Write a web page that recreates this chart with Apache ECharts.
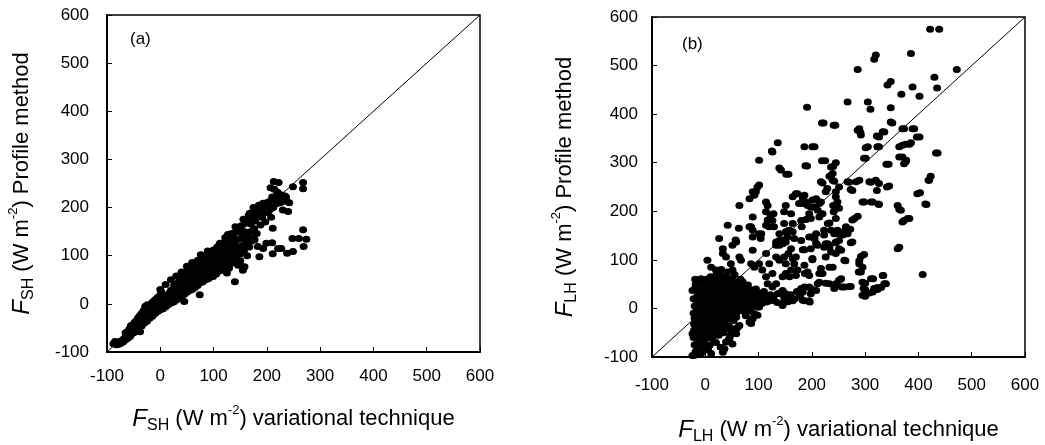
<!DOCTYPE html>
<html>
<head>
<meta charset="utf-8">
<script src="https://cdn.jsdelivr.net/npm/echarts@6/dist/echarts.min.js"></script>
<style>
  html, body { margin: 0; padding: 0; background: #fff; }
  #chart { width: 1045px; height: 445px; }
</style>
</head>
<body>
<div id="chart"></div>
<script>
// axis range and ticks shared by both panels
const axisTicks = [-100, 0, 100, 200, 300, 400, 500, 600];
const diagonal = [-100, 600];

// (a) sensible heat flux: [variational, profile]
const shPoints = [
  [-88,-83],[-85,-78],[-82,-85],[-80,-80],[-78,-84],[-76,-78],[-74,-82],[-72,-76],[-70,-79],[-68,-72],
  [-66,-75],[-64,-68],[-62,-72],[-60,-65],[-58,-62],[-57,-68],[-55,-58],[-54,-52],[-52,-56],[-50,-50],
  [-49,-54],[-47,-47],[-45,-50],[-44,-44],[-42,-46],[-40,-40],[-39,-44],[-37,-36],[-36,-41],[-38,-58],
  [-33,-34],[-32,-30],[-30,-34],[-29,-26],[-28,-30],[-26,-22],[-25,-28],[-28,-5],[-22,-24],[-21,-18],
  [-20,-22],[-18,-14],[-17,-20],[-15,-12],[-14,-16],[-12,-8],[-11,-14],[-10,-6],[-8,-10],[-7,-2],
  [-5,-8],[-4,-4],[-3,2],[-1,-6],[0,-2],[1,4],[2,-5],[3,0],[4,8],[5,-3],[6,3],[2,24],[8,10],[9,2],
  [10,6],[11,14],[12,0],[13,8],[14,18],[15,4],[16,12],[17,22],[18,7],[19,15],[20,28],[21,10],[22,18],
  [23,30],[24,14],[25,22],[26,38],[27,12],[28,26],[29,34],[30,18],[31,42],[32,24],[33,30],[34,20],
  [35,36],[36,48],[37,26],[38,32],[39,44],[40,28],[41,38],[42,54],[43,30],[44,42],[45,5],[46,36],
  [47,50],[48,64],[49,32],[50,44],[51,56],[52,72],[53,40],[54,50],[55,62],[56,36],[57,46],[58,58],
  [59,70],[60,42],[61,52],[62,64],[63,78],[64,48],[65,58],[66,68],[67,40],[68,54],[69,64],[70,76],
  [71,50],[72,60],[73,90],[74,19],[75,70],[76,102],[77,55],[78,66],[79,80],[80,58],[81,72],[82,86],
  [83,62],[84,74],[85,95],[86,55],[87,68],[88,80],[89,110],[90,62],[92,76],[93,88],[95,70],[96,100],
  [97,82],[99,57],[100,92],[101,74],[102,108],[103,86],[105,66],[106,96],[107,118],[108,80],[110,100],
  [111,88],[112,126],[113,72],[115,106],[116,92],[117,120],[118,82],[120,110],[121,96],[122,138],
  [124,78],[125,104],[126,118],[127,144],[128,90],[129,74],[130,110],[131,130],[133,98],[134,146],
  [135,120],[136,140],[137,86],[138,106],[140,46],[140,128],[141,160],[142,96],[144,116],[145,150],
  [146,80],[148,134],[149,84],[150,104],[152,162],[153,120],[154,140],[155,70],[156,176],[157,110],
  [158,77],[158,150],[160,128],[161,168],[163,100],[164,140],[166,184],[167,118],[168,188],[169,150],
  [170,166],[172,136],[173,180],[175,200],[176,156],[177,133],[178,172],[180,195],[181,146],[183,119],
  [184,186],[185,205],[186,98],[188,164],[190,200],[191,180],[193,209],[193,115],[195,190],[197,170],
  [199,126],[200,205],[202,190],[204,212],[206,196],[207,241],[208,180],[210,127],[210,216],[211,104],
  [211,157],[212,200],[213,254],[214,238],[216,222],[218,208],[220,232],[221,115],[222,252],[222,218],
  [225,210],[227,115],[228,226],[230,195],[232,214],[234,224],[236,222],[236,213],[238,105],[240,192],
  [242,210],[248,136],[249,109],[249,243],[260,136],[268,252],[268,239],[268,154],[269,119],[274,134],
  // thicker parts of the band
  [-65,-60],[-62,-58],[-58,-52],[-55,-45],[-52,-44],[-48,-38],[-45,-36],[-42,-30],[-40,-28],[-38,-24],
  [-35,-20],[-32,-16],[-30,-12],[-27,-8],[-24,-2],[-20,-4],[-17,0],[-14,4],[-10,8],[-6,12],
  [-2,16],[2,18],[-60,-70],[-55,-64],[-50,-60],[-45,-56],[-40,-50],[-35,-46],[-30,-40],[-25,-36],
  [-20,-30],[-15,-26],[-10,-20],[-5,-16],[0,-12],[5,-10],[10,-6],[15,-2],[20,2],[25,4],
  [30,8],[35,12],[40,16],[45,20],[50,24],[55,28],[60,30],[65,34],[70,38],[75,44],
  [80,46],[85,50],[90,52],[95,56],[100,60],[105,62],[110,68],[115,70],[120,74],[0,30],
  [10,40],[20,50],[30,58],[40,66],[50,78],[60,86],[70,90],[80,96],[90,104],[100,112],
  [110,120],[120,128],[130,140],[140,148],[150,158],[160,170],[170,178],[180,184],[190,196],[200,210],
  [210,222],[220,226],[160,120],[170,130],[150,90],[130,80],[125,64]
];

// (b) latent heat flux: [variational, profile]
const lhPoints = [
  // upper scatter
  [422,575],[439,575],[386,525],[320,522],[317,513],[286,492],[472,492],[430,476],[435,454],[348,467],
  [342,460],[389,456],[368,441],[402,437],[267,425],[305,425],[310,410],[348,413],[191,414],[219,382],
  [241,377],[289,370],[291,362],[348,384],[370,370],[389,370],[333,364],[322,355],[323,333],[301,331],
  [397,353],[364,333],[376,338],[383,338],[376,302],[370,312],[340,297],[433,320],[298,309],[136,341],
  [125,324],[186,333],[201,333],[101,305],[139,289],[142,285],[152,276],[188,294],[225,304],[245,300],
  [240,292],[236,274],[239,264],[267,261],[273,245],[283,261],[289,264],[308,261],[320,264],[322,243],
  [325,215],[341,250],[295,219],[311,219],[398,236],[419,264],[423,272],[413,215],[361,212],[364,204],
  [380,185],[370,178],[361,123],[408,70],[276,182],[272,163],[273,135],[261,99],[292,107],[289,92],
  [288,75],[295,54],[297,41],[295,27],[311,61],[317,41],[308,32],[323,43],[333,68],[336,51],
  [270,45],[256,44],[251,58],[239,85],[226,52],[214,72],[211,51],[201,37],[195,44],[198,30],
  [196,13],[183,17],[186,44],[187,72],[186,89],[201,103],[198,123],[195,147],[200,147],[180,140],
  [183,121],[181,168],[198,185],[183,226],[189,219],[201,223],[198,209],[164,230],[170,236],[208,154],
  [208,134],[214,188],[220,195],[214,216],[217,219],[217,261],[226,240],[240,212],[241,199],[245,185],
  [245,230],[248,219],[251,206],[230,175],[236,161],[242,154],[248,161],[255,157],[258,151],[251,123],
  [245,113],[230,133],[226,106],[233,85],[223,151],[255,61],
  [126,322],[156,276],[95,240],[92,233],[205,333],[191,293],[222,382],[244,377],[219,304],[236,291],
  [239,278],[233,272],[220,258],[229,247],[242,262],[245,240],[251,250],[270,260],[276,243],[311,260],
  [326,257],[345,252],[298,219],[314,219],[326,214],[301,309],[305,333],[326,333],[286,367],[292,357],
  [326,353],[336,363],[351,382],[373,370],[392,370],[402,353],[364,312],[377,305],[373,298],[370,336],
  [386,341],[344,297],[436,320],[420,264],[403,238],[415,214],[367,202],[373,181],[383,185],[280,185],
  [233,176],[223,161],[264,168],[267,154],[276,137],[251,140],[211,202],[195,195],[189,183],[180,181],
  [173,236],[186,233],[183,216],[176,216],[208,226],[205,209],[192,212],[151,212],[161,195],[148,199],
  [164,175],[148,175],[123,192],[126,181],[120,168],[89,188],[86,168],[105,154],[89,147],[63,165],
  [57,141],[158,161],[154,147],[139,140],[133,137],[145,133],[205,144],[211,130],[223,126],[186,121],
  [201,100],[192,75],[226,133],[233,130],[245,137],[364,126],
  [298,111],[289,98],[295,85],[292,75],[334,68],[339,51],[330,43],[323,39],[314,34],[315,61],
  [300,52],[300,39],[300,25],[263,98],[255,120],[286,190],[264,164],[251,154],[245,135],[233,126],
  [236,116],[273,45],[261,44],[245,51],[242,41],[233,51],[217,82],[220,72],[214,54],[208,37],
  [198,41],[195,16],[186,16],[164,16],[145,6],[180,41],[183,34],[195,68],
  // middle left
  [64,212],[83,226],[89,240],[98,250],[101,254],[114,219],[117,212],[114,199],[117,182],[114,171],
  [128,195],[129,168],[83,168],[89,161],[101,154],[104,144],[42,171],[26,144],[33,123],[58,137],
  [51,130],[64,106],[67,99],[89,120],[139,154],[145,140],[151,137],[133,130],[151,158],[157,161],
  [164,158],[167,144],[161,123],[156,113],[139,130],[133,106],[139,99],[114,113],[120,92],[101,92],
  [107,79],[86,92],[92,85],[148,106],[151,92],[164,103],[167,92],[170,106],[161,79],[158,65],
  [151,72],[145,65],[170,68],[173,79],[126,72],[133,51],[114,65],[117,51],[145,37],[151,30],
  [161,17],[145,10],[126,44],[136,30],[114,20],[126,17],[101,30],[92,20],[98,3],[83,3],
  [64,-4],[54,34],[64,44],[48,92],[51,79],[33,113],[39,106],[4,99],[11,85],[20,79],
  [26,72],[-8,61],[-11,51],[-24,37],[7,55],[1,44],[89,17],[95,10],[76,24],[83,17],
  [58,10],[64,17],[101,3],[114,13],[123,17],
  // dense cluster near origin
  [-20,40],[-18,20],[-20,5],[-19,-10],[-18,-25],[-17,-38],[-16,10],[-15,25],[-14,-5],[-13,-18],
  [-12,35],[-11,0],[-10,-30],[-10,15],[-9,-45],[-8,28],[-7,-12],[-6,5],[-5,-22],[-5,45],
  [-4,18],[-3,-35],[-2,8],[-1,-8],[0,25],[0,-50],[1,-18],[2,38],[2,-2],[3,12],
  [4,-28],[5,55],[5,-60],[6,20],[6,2],[7,-12],[8,32],[9,-40],[10,8],[10,48],
  [11,-5],[12,22],[13,-22],[14,62],[14,0],[15,35],[16,-15],[17,12],[18,-32],[19,45],
  [20,-2],[20,25],[21,70],[22,-48],[23,8],[24,38],[25,-18],[26,18],[27,55],[28,-5],
  [29,30],[30,-30],[30,80],[31,10],[32,45],[33,-12],[34,22],[35,60],[36,0],[37,-40],
  [38,32],[39,15],[40,-20],[40,50],[41,75],[42,5],[43,28],[44,-8],[45,40],[46,18],
  [47,-55],[48,60],[49,-2],[50,30],[51,12],[52,45],[53,-25],[54,22],[55,70],[56,2],
  [57,35],[58,-10],[59,18],[60,50],[61,28],[62,8],[63,40],[64,-35],[65,22],[66,60],
  [67,12],[68,32],[70,-2],[71,45],[72,20],[74,8],[75,35],[76,-15],[78,25],[80,48],
  [81,12],[83,30],[85,-5],[86,18],[88,38],[90,25],[92,5],[95,40],[97,15],[100,30],
  [103,22],[106,10],[110,35],[114,25],[118,15],[122,28],[128,20],[135,12],[140,32],[148,22],
  [155,14],[160,28],[168,20],[172,35],[178,26],
  [-18,50],[-15,-50],[-12,-60],[-10,-70],[-6,-80],[0,-75],[-16,-62],[-12,-42],[-8,-28],[-4,-48],
  [2,-38],[6,-52],[10,-30],[14,-40],[18,-55],[22,-30],[26,-42],[30,-15],[34,-50],[38,-8],
  [42,-22],[46,-38],[50,-12],[54,-45],[56,10],[-14,55],[-10,30],[-6,40],[-2,52],[2,60],
  [6,42],[10,65],[14,48],[18,60],[22,38],[26,68],[30,52],[34,40],[38,65],[42,45],
  [46,55],[50,62],[54,48],[58,40],[62,55],[66,40],[70,55],[74,40],[-16,-2],[-12,8],
  [-8,-4],[-4,2],[0,8],[4,-8],[8,15],[12,-15],[16,5],[20,12],[24,-8],[28,15],
  [32,2],[36,-18],[40,8],[44,18],[48,-10],[52,5],[56,20],[60,0],[64,28],[68,-5],
  [72,10],[76,30],[80,0],[84,20],[88,8],[92,30],[96,22],[100,15],[20,-20],[0,-30],
  [-20,-20],[-19,60],[-22,20],[-22,-10],
  // lower part
  [-22,-60],[-20,-75],[-18,-88],[-24,-97],[-14,-76],[-8,-93],[-8,-86],[-2,-66],[7,-76],[-18,-52],
  [-21,-45],[-21,-32],[5,-85],[12,-62],[15,-48],[20,-70],[25,-55],[29,-80],[33,-90],[39,-69],
  [45,-62],[51,-73],[58,-42],[58,-18],[76,-11],[83,-28],[86,-31],[89,-21],[92,-11],[98,-14],
  [35,-25],[42,-35],[-15,-76],[-21,-97],[45,-63],[36,-83],[-24,-52],[-14,-45],[-2,-56],[45,-42],
  [58,-52],[61,-39],[8,-76],[11,-93]
];

const FONT = '"Liberation Sans", Arial, sans-serif';

const nameRich = {
  f: { fontStyle: 'italic', fontSize: 24, fontFamily: FONT, color: '#000', lineHeight: 30 },
  sub: { fontSize: 16, fontFamily: FONT, color: '#000', lineHeight: 15, verticalAlign: 'bottom' },
  n: { fontSize: 22, fontFamily: FONT, color: '#000', lineHeight: 30 },
  sup: { fontSize: 13, fontFamily: FONT, color: '#000', lineHeight: 13, verticalAlign: 'top' }
};

function makeAxis(gridIndex, name, labelMargin, nameGap) {
  return {
    type: 'value',
    gridIndex: gridIndex,
    min: axisTicks[0],
    max: axisTicks[axisTicks.length - 1],
    interval: 100,
    axisLine: { show: true, onZero: false, lineStyle: { color: '#000', width: 2 } },
    axisTick: { show: true, inside: true, length: 5, lineStyle: { color: '#000', width: 1 } },
    axisLabel: { color: '#000', fontSize: 17, fontFamily: FONT, margin: labelMargin },
    splitLine: { show: false },
    name: name,
    nameLocation: 'middle',
    nameGap: nameGap,
    nameTextStyle: { rich: nameRich }
  };
}

function scatter(idx, data) {
  return {
    type: 'scatter',
    xAxisIndex: idx,
    yAxisIndex: idx,
    data: data,
    symbol: 'circle',
    symbolSize: [8, 7],
    itemStyle: { color: '#000', opacity: 1 },
    silent: true,
    z: 3
  };
}

function diagLine(idx) {
  return {
    type: 'line',
    xAxisIndex: idx,
    yAxisIndex: idx,
    data: [[diagonal[0], diagonal[0]], [diagonal[1], diagonal[1]]],
    showSymbol: false,
    lineStyle: { color: '#000', width: 1 },
    silent: true,
    z: 2
  };
}

const chart = echarts.init(document.getElementById('chart'), null, { renderer: 'canvas' });

chart.setOption({
  animation: false,
  backgroundColor: '#fff',
  grid: [
    { left: 107, right: 565, top: 15, bottom: 93, show: true, borderColor: '#000', borderWidth: 1.5, outerBoundsMode: 'none' },
    { left: 652, right: 20, top: 17, bottom: 88, show: true, borderColor: '#000', borderWidth: 1.5, outerBoundsMode: 'none' }
  ],
  xAxis: [
    makeAxis(0, '{f|F}{sub|SH}{n| (W m}{sup|-2}{n|) variational technique}', 16, 52),
    makeAxis(1, '{f|F}{sub|LH}{n| (W m}{sup|-2}{n|) variational technique}', 20, 58)
  ],
  yAxis: [
    makeAxis(0, '{f|F}{sub|SH}{n| (W m}{sup|-2}{n|) Profile method}', 18, 70),
    makeAxis(1, '{f|F}{sub|LH}{n| (W m}{sup|-2}{n|) Profile method}', 14, 72)
  ],
  graphic: [
    { type: 'text', left: 130, top: 31, style: { text: '(a)', fontSize: 17, fontFamily: FONT, fill: '#000' } },
    { type: 'text', left: 682, top: 36, style: { text: '(b)', fontSize: 17, fontFamily: FONT, fill: '#000' } }
  ],
  series: [
    diagLine(0),
    scatter(0, shPoints),
    diagLine(1),
    scatter(1, lhPoints)
  ]
});
</script>
</body>
</html>
